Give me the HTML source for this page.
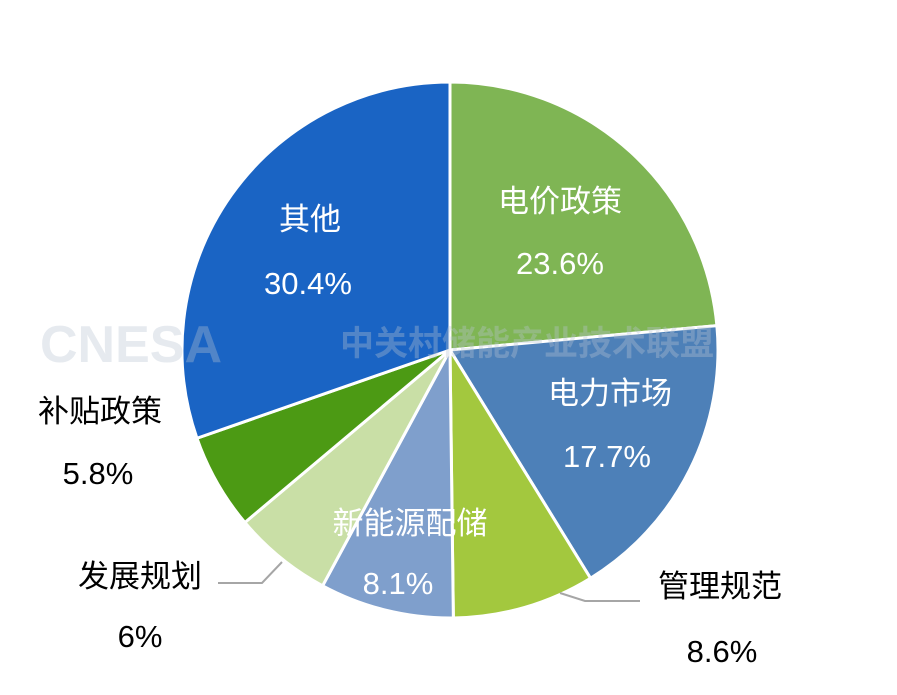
<!DOCTYPE html>
<html><head><meta charset="utf-8"><style>
html,body{margin:0;padding:0;background:#fff;}
svg{display:block;}
text{font-family:"Liberation Sans","Noto Sans CJK SC",sans-serif;}
</style></head><body>
<svg id="s" width="897" height="695" viewBox="0 0 897 695" xmlns="http://www.w3.org/2000/svg">
<g id="pie"></g>
<g font-size="40" font-weight="bold" fill="#b8c4d2" opacity="0.35">
<text x="40" y="362" font-size="52">CNESA</text>
<text x="340" y="355" font-size="34">中关村储能产业技术联盟</text>
</g>
<g fill="#fff" font-size="31" text-anchor="middle">
<text x="560" y="212">电价政策</text><text x="560" y="274">23.6%</text>
<text x="610" y="404">电力市场</text><text x="607" y="467">17.7%</text>
<text x="410" y="534">新能源配储</text><text x="398" y="594">8.1%</text>
<text x="310" y="230">其他</text><text x="308" y="294">30.4%</text>
</g>
<g fill="#000" font-size="31" text-anchor="middle">
<text x="100" y="422">补贴政策</text><text x="98" y="484">5.8%</text>
<text x="140" y="587">发展规划</text><text x="140" y="647">6%</text>
<text x="720" y="597">管理规范</text><text x="722" y="662">8.6%</text>
</g>
<polyline points="218,583 262,583 282,562" fill="none" stroke="#a6a6a6" stroke-width="2"/>
<polyline points="560,593 585,601 640,601" fill="none" stroke="#a6a6a6" stroke-width="2"/>
</svg>
<script>
var d=[[23.6,"#7fb554"],[17.7,"#4d80b8"],[8.6,"#a3c83e"],[8.1,"#7f9fcc"],[6,"#c9dfa6"],[5.8,"#4c9a14"],[30.4,"#1a64c4"]];
var tot=0;d.forEach(function(x){tot+=x[0];});
var cx=450,cy=350,r=268,a=0,g=document.getElementById("pie"),h="";
d.forEach(function(x){
 var a2=a+x[0]/tot*2*Math.PI;
 var x1=cx+r*Math.sin(a),y1=cy-r*Math.cos(a),x2=cx+r*Math.sin(a2),y2=cy-r*Math.cos(a2);
 var l=(a2-a)>Math.PI?1:0;
 h+='<path d="M'+cx+','+cy+' L'+x1+','+y1+' A'+r+','+r+' 0 '+l+' 1 '+x2+','+y2+' Z" fill="'+x[1]+'" stroke="#fff" stroke-width="3"/>';
 a=a2;
});
g.innerHTML=h;
</script>
</body></html>
